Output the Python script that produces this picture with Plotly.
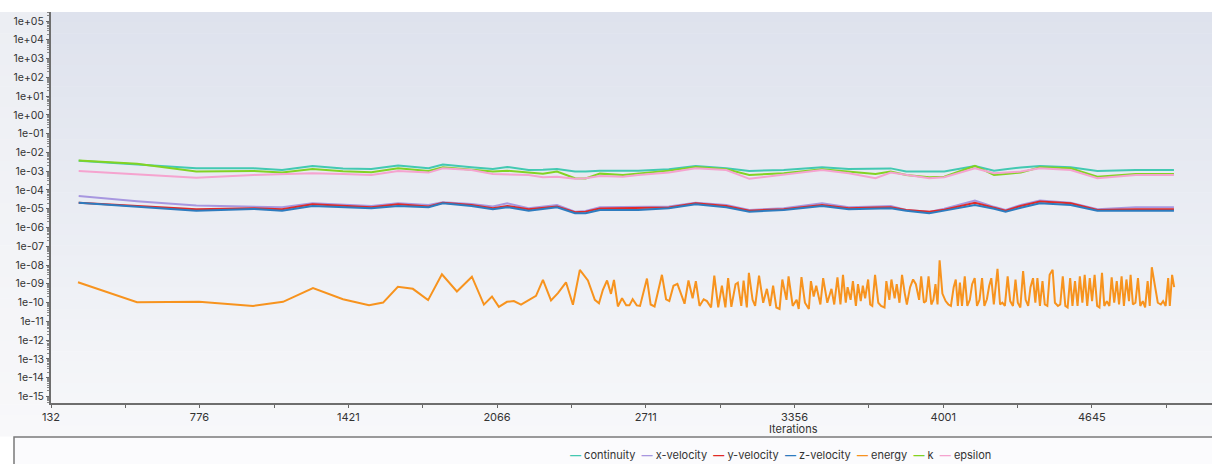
import plotly.graph_objects as go

# ---------------- data ----------------
series_names = ["continuity", "x-velocity", "y-velocity", "z-velocity", "energy", "k", "epsilon"]
series_colors = ["#43c9b2", "#a797e0", "#e12a27", "#2d7cbf", "#f7931e", "#82d323", "#f5a3cf"]

iterations = [252, 505, 762, 1010, 1134, 1266, 1398, 1521, 1637, 1769, 1831, 1955, 2048, 2110,
              2203, 2265, 2326, 2404, 2450, 2512, 2612, 2678, 2811, 2927, 3060, 3160, 3309, 3475,
              3591, 3707, 3773, 3840, 3940, 4005, 4138, 4221, 4271, 4337, 4420, 4553, 4669, 4835, 5001]

continuity = [3.6e-3, 2.3e-3, 1.43e-3, 1.43e-3, 1.16e-3, 1.9e-3, 1.41e-3, 1.32e-3, 1.98e-3, 1.43e-3,
              2.24e-3, 1.62e-3, 1.32e-3, 1.68e-3, 1.16e-3, 1.2e-3, 1.32e-3, 9.5e-4, 9.5e-4, 1.07e-3,
              1.07e-3, 1.07e-3, 1.26e-3, 1.9e-3, 1.43e-3, 1.03e-3, 1.16e-3, 1.61e-3, 1.32e-3, 1.35e-3,
              1.41e-3, 9.5e-4, 9.5e-4, 9.5e-4, 1.9e-3, 1.07e-3, 1.26e-3, 1.58e-3, 1.9e-3, 1.61e-3,
              1.03e-3, 1.16e-3, 1.16e-3]

x_velocity = [4.8e-5, 2.5e-5, 1.47e-5, 1.3e-5, 1.2e-5, 1.95e-5, 1.58e-5, 1.41e-5, 1.95e-5, 1.59e-5,
              2.2e-5, 1.8e-5, 1.3e-5, 1.95e-5, 1.06e-5, 1.26e-5, 1.59e-5, 7.0e-6, 7.6e-6, 1.2e-5,
              1.26e-5, 1.3e-5, 1.3e-5, 2.1e-5, 1.59e-5, 8.6e-6, 1.06e-5, 1.95e-5, 1.2e-5, 1.32e-5,
              1.41e-5, 8.6e-6, 6.8e-6, 1.0e-5, 2.7e-5, 1.26e-5, 8.6e-6, 1.58e-5, 2.7e-5, 2.1e-5,
              9.4e-6, 1.2e-5, 1.2e-5]

y_velocity = [2.1e-5, 1.41e-5, 9.4e-6, 1.06e-5, 9.4e-6, 1.73e-5, 1.41e-5, 1.2e-5, 1.73e-5, 1.3e-5,
              2.1e-5, 1.59e-5, 1.06e-5, 1.41e-5, 9.4e-6, 1.12e-5, 1.3e-5, 6.5e-6, 7.0e-6, 1.02e-5,
              1.05e-5, 1.06e-5, 1.15e-5, 1.95e-5, 1.41e-5, 7.9e-6, 9.4e-6, 1.59e-5, 1.06e-5, 1.17e-5,
              1.2e-5, 8.6e-6, 6.8e-6, 8.9e-6, 2.1e-5, 1.12e-5, 7.9e-6, 1.41e-5, 2.4e-5, 1.95e-5,
              8.6e-6, 9.4e-6, 9.4e-6]

z_velocity = [2.1e-5, 1.35e-5, 7.9e-6, 9.7e-6, 7.9e-6, 1.41e-5, 1.26e-5, 1.06e-5, 1.41e-5, 1.2e-5,
              1.95e-5, 1.41e-5, 9.4e-6, 1.2e-5, 7.9e-6, 1.0e-5, 1.2e-5, 5.7e-6, 5.7e-6, 8.6e-6,
              8.6e-6, 8.6e-6, 1.06e-5, 1.73e-5, 1.2e-5, 7.0e-6, 8.6e-6, 1.41e-5, 9.4e-6, 1.02e-5,
              1.06e-5, 7.9e-6, 5.7e-6, 7.9e-6, 1.59e-5, 1.0e-5, 7.0e-6, 1.12e-5, 1.95e-5, 1.59e-5,
              7.9e-6, 7.9e-6, 7.9e-6]

k_values = [3.7e-3, 2.5e-3, 9.5e-4, 1.03e-3, 8.4e-4, 1.32e-3, 1.0e-3, 8.7e-4, 1.43e-3, 1.03e-3,
            1.61e-3, 1.16e-3, 9.5e-4, 1.07e-3, 8.4e-4, 7.2e-4, 9.5e-4, 4.2e-4, 4.1e-4, 7.4e-4,
            6.3e-4, 7.7e-4, 1.07e-3, 1.68e-3, 1.26e-3, 6.3e-4, 7.7e-4, 1.26e-3, 9.5e-4, 7.1e-4,
            9.5e-4, 6.3e-4, 4.7e-4, 5.1e-4, 1.9e-3, 6.3e-4, 7.1e-4, 8.4e-4, 1.61e-3, 1.43e-3,
            5.1e-4, 7.1e-4, 7.1e-4]

epsilon = [1.03e-3, 7.1e-4, 4.5e-4, 6.3e-4, 6.8e-4, 7.7e-4, 7.1e-4, 6.3e-4, 1.03e-3, 8.4e-4,
           1.43e-3, 1.16e-3, 7.1e-4, 6.8e-4, 6.3e-4, 4.7e-4, 5.1e-4, 3.9e-4, 4.2e-4, 5.6e-4,
           5.1e-4, 6.3e-4, 8.4e-4, 1.43e-3, 1.16e-3, 3.9e-4, 6.3e-4, 1.16e-3, 7.7e-4, 4.2e-4,
           8.4e-4, 6.3e-4, 4.2e-4, 4.7e-4, 1.43e-3, 7.7e-4, 8.7e-4, 9.5e-4, 1.43e-3, 1.16e-3,
           4.2e-4, 6.3e-4, 6.3e-4]

energy_iterations = [
    249, 505, 774, 1008, 1138, 1268, 1398, 1511, 1572, 1636, 1701, 1767, 1827, 1892, 1957, 2009,
    2044, 2074, 2109, 2139, 2170, 2235, 2265, 2300, 2330, 2365, 2395, 2425, 2460, 2490, 2508, 2525,
    2543, 2560, 2573, 2590, 2608, 2626, 2640, 2654, 2672, 2686, 2716, 2732, 2749, 2781, 2799, 2813,
    2831, 2848, 2879, 2896, 2914, 2928, 2944, 2962, 2976, 2994, 3008, 3025, 3041, 3056, 3068, 3082,
    3100, 3110, 3125, 3135, 3149, 3158, 3174, 3185, 3202, 3220, 3236, 3250, 3263, 3277, 3291, 3303,
    3321, 3330, 3348, 3365, 3374, 3386, 3401, 3418, 3427, 3439, 3450, 3468, 3480, 3498, 3516, 3528,
    3542, 3555, 3566, 3578, 3586, 3599, 3609, 3622, 3631, 3643, 3652, 3662, 3675, 3684, 3693, 3705,
    3719, 3731, 3746, 3754, 3767, 3776, 3790, 3799, 3811, 3822, 3834, 3843, 3857, 3870, 3882, 3896,
    3905, 3917, 3926, 3937, 3949, 3958, 3967, 3976, 3985, 3997, 4011, 4023, 4034, 4046, 4055, 4064,
    4073, 4082, 4094, 4105, 4116, 4126, 4137, 4147, 4158, 4169, 4179, 4190, 4200, 4209, 4220, 4229,
    4236, 4247, 4257, 4268, 4280, 4291, 4303, 4314, 4324, 4335, 4347, 4358, 4369, 4379, 4390, 4400,
    4409, 4420, 4431, 4441, 4452, 4462, 4475, 4485, 4498, 4508, 4519, 4530, 4540, 4551, 4561, 4572,
    4583, 4593, 4604, 4614, 4625, 4636, 4646, 4657, 4668, 4678, 4689, 4699, 4710, 4721, 4731, 4742,
    4753, 4763, 4774, 4784, 4795, 4806, 4813, 4823, 4834, 4845, 4855, 4866, 4876, 4887, 4896, 4905,
    4919, 4931, 4944, 4954, 4965, 4976, 4983, 4993, 5002]

energy = [
    1.2e-9, 1.05e-10, 1.1e-10, 6.6e-11, 1.1e-10, 5.9e-10, 1.5e-10, 7.2e-11, 1.0e-10, 6.9e-10, 5.4e-10, 1.35e-10, 3.2e-9, 3.9e-10, 2.4e-9, 7.8e-11,
    2.1e-10, 5.9e-11, 1.1e-10, 1.2e-10, 7.8e-11, 2.3e-10, 1.6e-9, 1.3e-10, 3.2e-10, 1.2e-9, 7.6e-11, 5.5e-9, 1.5e-9, 1.4e-10, 9.3e-11, 4.8e-10,
    1.5e-9, 2.9e-10, 1.6e-9, 6.2e-11, 1.7e-10, 7.1e-11, 7.1e-11, 1.5e-10, 7.1e-11, 6.6e-11, 1.9e-9, 7.9e-11, 6.2e-11, 3.0e-9, 1.5e-10, 1.2e-10,
    7.9e-10, 1.0e-9, 8.7e-11, 1.5e-9, 1.7e-10, 1.4e-9, 6.6e-11, 1.5e-10, 1.2e-10, 5.5e-11, 2.7e-9, 5.5e-11, 7.9e-10, 5.5e-11, 2.0e-9, 5.9e-11,
    9.5e-10, 1.15e-9, 6.6e-11, 1.5e-9, 5.5e-11, 3.8e-9, 1.4e-10, 6.6e-11, 2.7e-9, 9.8e-11, 5.4e-10, 6.6e-11, 7.9e-10, 5.5e-11, 4.6e-11, 1.7e-9,
    1.4e-10, 2.5e-9, 6.6e-11, 1.4e-10, 4.6e-11, 2.3e-9, 9.8e-11, 4.6e-11, 1.4e-9, 2.1e-10, 7.9e-10, 7.9e-11, 2.0e-9, 9.8e-11, 5.4e-10, 7.9e-11,
    2.2e-9, 7.9e-11, 3.0e-9, 9.8e-11, 6.6e-10, 1.4e-10, 1.4e-9, 6.6e-11, 9.5e-10, 1.2e-10, 7.9e-10, 1.7e-10, 1.7e-9, 7.9e-11, 6.6e-11, 3.0e-9,
    9.8e-11, 6.6e-11, 5.5e-11, 1.4e-9, 1.4e-10, 1.7e-9, 1.7e-10, 9.5e-10, 9.8e-11, 3.0e-9, 3.0e-10, 7.9e-11, 6.6e-10, 1.7e-9, 9.5e-10, 1.4e-10,
    2.5e-9, 9.8e-11, 1.2e-10, 2.5e-9, 7.9e-11, 1.4e-10, 9.5e-10, 7.9e-11, 1.8e-8, 3.0e-10, 1.2e-10, 7.9e-11, 6.6e-11, 6.6e-10, 1.7e-9, 6.6e-11,
    1.15e-9, 6.6e-11, 2.5e-9, 6.6e-11, 1.4e-10, 9.5e-10, 2.0e-9, 6.6e-11, 1.4e-10, 2.0e-9, 6.6e-11, 1.5e-10, 7.9e-10, 2.0e-9, 7.9e-11, 6.6e-10,
    6.3e-9, 7.9e-11, 9.8e-11, 6.6e-11, 2.5e-9, 1.2e-10, 6.6e-11, 1.7e-9, 9.8e-11, 5.5e-11, 4.7e-9, 1.4e-10, 6.6e-11, 6.6e-10, 2.0e-9, 9.8e-11,
    2.0e-9, 6.6e-11, 1.4e-9, 7.9e-11, 6.6e-11, 3.0e-9, 5.6e-9, 9.8e-11, 6.6e-11, 7.9e-11, 2.5e-9, 6.6e-11, 5.5e-11, 2.0e-9, 6.6e-11, 1.4e-9,
    6.6e-11, 2.5e-9, 9.8e-11, 3.0e-9, 6.6e-11, 2.0e-9, 1.2e-10, 3.0e-9, 6.6e-11, 5.5e-11, 3.8e-9, 6.6e-11, 1.2e-10, 6.6e-11, 2.2e-9, 9.8e-11,
    1.4e-9, 7.9e-11, 2.5e-9, 6.6e-11, 1.7e-9, 1.2e-10, 3.0e-9, 7.9e-11, 9.8e-11, 2.0e-9, 6.6e-11, 1.2e-10, 5.5e-11, 1.4e-9, 6.6e-11, 7.6e-9,
    6.6e-10, 9.8e-11, 7.9e-11, 1.2e-10, 6.6e-11, 2.0e-9, 6.6e-11, 3.0e-9, 6.6e-10]

x_tick_values = [132, 776, 1421, 2066, 2711, 3356, 4001, 4645]
x_minor_ticks = [454, 1099, 1744, 2389, 3033, 3678, 4323, 4968]
y_tick_values = [1e5, 1e4, 1e3, 1e2, 1e1, 1e0, 1e-1, 1e-2, 1e-3, 1e-4, 1e-5, 1e-6, 1e-7,
                 1e-8, 1e-9, 1e-10, 1e-11, 1e-12, 1e-13, 1e-14, 1e-15]
y_tick_labels = ["1e+05", "1e+04", "1e+03", "1e+02", "1e+01", "1e+00", "1e-01", "1e-02", "1e-03",
                 "1e-04", "1e-05", "1e-06", "1e-07", "1e-08", "1e-09", "1e-10", "1e-11", "1e-12",
                 "1e-13", "1e-14", "1e-15"]

# ---------------- figure ----------------
W, H = 1212, 464
ML, MT, MB = 51, 12, 61
FONT = "Inter, Noto Sans, sans-serif"

fig = go.Figure()
series = [
    (iterations, continuity), (iterations, x_velocity), (iterations, y_velocity),
    (iterations, z_velocity), (energy_iterations, energy), (iterations, k_values),
    (iterations, epsilon),
]
for (xs, ys), name, col in zip(series, series_names, series_colors):
    fig.add_trace(go.Scatter(x=xs, y=ys, mode="lines", name=name,
                             line=dict(color=col, width=2), showlegend=False))

# gradient background bands (styling only)
def lerp(c0, c1, t):
    return "rgb(%d,%d,%d)" % tuple(round(a + (b - a) * t) for a, b in zip(c0, c1))

plot_h = H - MT - MB
def py_to_paper(py):
    return (H - MB - py) / plot_h
def px_to_paper(px):
    return (px - ML) / (W - ML)

shapes = []
top_c, bot_c = (222, 226, 237), (247, 248, 250)
left_top, left_bot = (236, 238, 243), (248, 248, 250)
nb = 40
y_start, y_end = 12, 436
for i in range(nb):
    a = y_start + (y_end - y_start) * i / nb
    b = y_start + (y_end - y_start) * (i + 1) / nb + 0.6
    t = i / (nb - 1)
    shapes.append(dict(type="rect", xref="paper", yref="paper", layer="below",
                       x0=0, x1=1.0, y0=py_to_paper(b), y1=py_to_paper(a),
                       fillcolor=lerp(top_c, bot_c, t), line=dict(width=0)))
    shapes.append(dict(type="rect", xref="paper", yref="paper", layer="below",
                       x0=px_to_paper(0), x1=0, y0=py_to_paper(b), y1=py_to_paper(a),
                       fillcolor=lerp(left_top, left_bot, t), line=dict(width=0)))
# legend box
shapes.append(dict(type="rect", xref="paper", yref="paper", layer="below",
                   x0=px_to_paper(14), x1=px_to_paper(1260), y0=py_to_paper(500), y1=py_to_paper(437),
                   fillcolor="#fbfbfd", line=dict(color="#7a7a7a", width=1.5)))

legend_text = "&nbsp;&nbsp;".join(
    f"<span style='color:{c}'><b>—</b></span> {n}" for n, c in zip(series_names, series_colors))

annotations = [
    dict(text="Iterations", xref="paper", yref="paper", x=px_to_paper(793), y=py_to_paper(429),
         xanchor="center", yanchor="middle", showarrow=False, font=dict(size=11, color="#333", family=FONT)),
    dict(text=legend_text, xref="paper", yref="paper", x=px_to_paper(780), y=py_to_paper(455),
         xanchor="center", yanchor="middle", showarrow=False, font=dict(size=11, color="#333", family=FONT)),
]

fig.update_layout(
    width=W, height=H,
    margin=dict(l=ML, r=0, t=MT, b=MB, pad=0),
    paper_bgcolor="white", plot_bgcolor="rgba(0,0,0,0)",
    font=dict(family=FONT, size=11, color="#333"),
    shapes=shapes, annotations=annotations, showlegend=False,
    xaxis=dict(range=[132, 5166], tickmode="array", tickvals=x_tick_values,
               ticktext=[str(v) for v in x_tick_values],
               ticks="outside", ticklen=3, tickwidth=1, tickcolor="#666",
               showline=True, linecolor="#6e6e6e", linewidth=2, showgrid=False, zeroline=False,
               minor=dict(tickmode="array", tickvals=x_minor_ticks, ticks="outside", ticklen=3,
                          tickcolor="#666", showgrid=False),
               tickfont=dict(size=11, color="#333", family=FONT)),
    yaxis=dict(type="log", range=[-15.35, 5.48], tickmode="array", tickvals=y_tick_values,
               ticktext=y_tick_labels, ticks="outside", ticklen=3, tickwidth=1, tickcolor="#666",
               showline=True, linecolor="#6e6e6e", linewidth=2, showgrid=False, zeroline=False,
               minor=dict(dtick="D1", ticks="outside", ticklen=2, tickcolor="#888", showgrid=False),
               tickfont=dict(size=10.5, color="#333", family=FONT)),
)

fig.write_html("out.html", config={"displayModeBar": False},
               post_script="document.body.style.margin='0px';document.body.style.padding='0px';")
